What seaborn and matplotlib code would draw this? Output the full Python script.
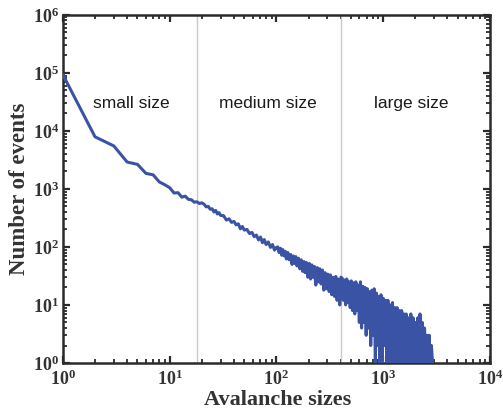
import matplotlib
matplotlib.use("Agg")
import matplotlib.pyplot as plt
import seaborn as sns
import numpy as np
import pandas as pd
from matplotlib.ticker import LogLocator, FixedLocator, FuncFormatter, NullFormatter

# ---- data ----
sizes_small = [1, 2, 3, 4, 5, 6, 7, 8, 9, 10, 11, 12, 13, 14, 15, 16, 17, 18, 19, 20]
counts_small = [93000, 7900, 5500, 2900, 2650, 1850, 1750, 1320, 1180, 1050,
                850, 860, 720, 750, 660, 650, 590, 600, 560, 575]

sizes_mid = [21, 22, 23, 24, 25, 26, 27, 28, 29, 30, 32, 34, 36, 38, 40, 42, 44, 46, 48, 50,
             53, 56, 59, 62, 65, 68, 71, 74, 77, 80, 84, 88, 92, 96, 100]
counts_mid = [545, 490, 500, 445, 455, 400, 425, 370, 390, 350, 345, 290, 305, 265, 275, 240,
              250, 205, 225, 195, 200, 170, 178, 150, 160, 132, 148, 118, 134, 110, 122, 98,
              110, 88, 98]

sizes_upper = [103, 106, 109, 112, 115, 118, 121, 124, 128, 132, 136, 140, 144, 148, 152, 156,
               161, 166, 171, 176, 181, 186, 191, 197, 203, 209, 215, 221, 227, 234, 241, 248,
               255, 262, 270, 278, 286, 294, 303, 312, 321, 330, 340, 350, 360, 370, 381, 392, 403]
counts_upper = [100, 80, 95, 72, 90, 70, 84, 62, 80, 60, 74, 50, 70, 52, 68, 47,
                64, 42, 60, 38, 56, 36, 54, 30, 52, 28, 49, 30, 46, 22, 44, 25,
                42, 23, 40, 18, 36, 19, 34, 17, 33, 15, 30, 14, 31, 12, 28, 10, 30]

sizes_large = [413, 423, 434, 445, 456, 467, 479, 491, 503, 516, 529, 542, 555, 569, 583, 598,
               613, 628, 644, 660, 676, 693, 710, 728, 746, 765, 784, 804, 824, 845, 866, 887,
               909, 932, 955, 979, 1004, 1029, 1055, 1081, 1108, 1136, 1164, 1193, 1223, 1254,
               1285, 1317, 1350, 1384, 1418, 1454, 1490, 1527, 1566, 1605, 1645, 1686, 1728,
               1771, 1816, 1861, 1908, 1955, 2004, 2054, 2106, 2158, 2212, 2268, 2324, 2382,
               2442, 2503, 2566, 2630, 2696, 2763, 2832, 2900]
counts_large = [29, 12, 27, 10, 28, 11, 25, 9, 26, 8, 24, 7, 25, 8, 22, 5,
                25, 4, 21, 5, 20, 3, 19, 4, 17, 2, 18, 3, 19, 1, 16, 2,
                14, 1, 15, 1, 13, 2, 12, 1, 12, 1, 10, 1, 11, 1,
                9, 1, 9, 1, 8, 1, 8, 1, 7, 1, 7, 1, 6,
                1, 7, 1, 6, 1, 5, 1, 6, 1, 7, 1, 5, 1,
                4, 1, 3, 1, 3, 1, 2, 1]

x_ticks = [1, 10, 100, 1000, 10000]
y_ticks = [1, 10, 100, 1000, 10000, 100000, 1000000]

region_bounds = [18, 400]
region_labels = ["small size", "medium size", "large size"]
region_label_x = [4.34, 83, 1820]
region_label_y = 30000

x_label = "Avalanche sizes"
y_label = "Number of events"

df = pd.DataFrame({
    "size": sizes_small + sizes_mid + sizes_upper + sizes_large,
    "count": counts_small + counts_mid + counts_upper + counts_large,
})

# ---- style ----
sns.set_style("ticks")
plt.rcParams["font.family"] = ["Liberation Serif", "DejaVu Serif"]
plt.rcParams["mathtext.fontset"] = "custom"
plt.rcParams["mathtext.rm"] = "Liberation Serif:bold"
plt.rcParams["mathtext.bf"] = "Liberation Serif:bold"
plt.rcParams["mathtext.it"] = "Liberation Serif:bold"
plt.rcParams["mathtext.default"] = "bf"

dark = "#2b2b2b"
text_col = "#333333"
line_color = "#3a53a4"

fig = plt.figure(figsize=(5.03, 4.12), dpi=100)
ax = fig.add_axes([0.125, 0.119, 0.849, 0.845])

for b in region_bounds:
    ax.axvline(b, color="#cdc8c2", lw=1.0, zorder=1)

sns.lineplot(data=df, x="size", y="count", ax=ax, estimator=None, sort=False,
             color=line_color, lw=2.2, zorder=3)

ax.set_xscale("log")
ax.set_yscale("log")
ax.set_xlim(x_ticks[0], x_ticks[-1])
ax.set_ylim(y_ticks[0], y_ticks[-1])


def pow_fmt(v, pos):
    e = int(round(np.log10(v)))
    return r"$\mathbf{10^{%d}}$" % e


ax.xaxis.set_major_locator(FixedLocator(x_ticks))
ax.yaxis.set_major_locator(FixedLocator(y_ticks))
ax.xaxis.set_minor_locator(LogLocator(base=10, subs=np.arange(2, 10), numticks=20))
ax.yaxis.set_minor_locator(LogLocator(base=10, subs=np.arange(2, 10), numticks=20))
ax.xaxis.set_major_formatter(FuncFormatter(pow_fmt))
ax.yaxis.set_major_formatter(FuncFormatter(pow_fmt))
ax.xaxis.set_minor_formatter(NullFormatter())
ax.yaxis.set_minor_formatter(NullFormatter())

ax.tick_params(which="both", direction="in", top=True, right=True, color=dark,
               labelcolor=text_col, labelsize=13)
ax.tick_params(which="major", length=5, width=1.6)
ax.tick_params(axis="y", which="major", pad=3)
ax.tick_params(axis="x", which="major", pad=5)
ax.tick_params(which="minor", length=3, width=1.3)
for s in ax.spines.values():
    s.set_color(dark)
    s.set_linewidth(1.8)
    s.set_visible(True)

ax.set_xlabel(x_label, fontsize=16, fontweight="bold", color=text_col)
ax.xaxis.label.set_va("baseline")
ax.xaxis.set_label_coords(0.502, -0.122)
ax.set_ylabel(y_label, fontsize=16.5, fontweight="bold", color=text_col)
ax.yaxis.label.set_rotation_mode("anchor")
ax.yaxis.label.set_va("baseline")
ax.yaxis.label.set_ha("center")
ax.yaxis.set_label_coords(-0.089, 0.5)

for lab, xv in zip(region_labels, region_label_x):
    ax.text(xv, region_label_y, lab, ha="center", va="center", fontsize=12.5,
            family=["Liberation Sans", "DejaVu Sans"], color="#1a1a1a")

fig.savefig("out.png", dpi=100)
